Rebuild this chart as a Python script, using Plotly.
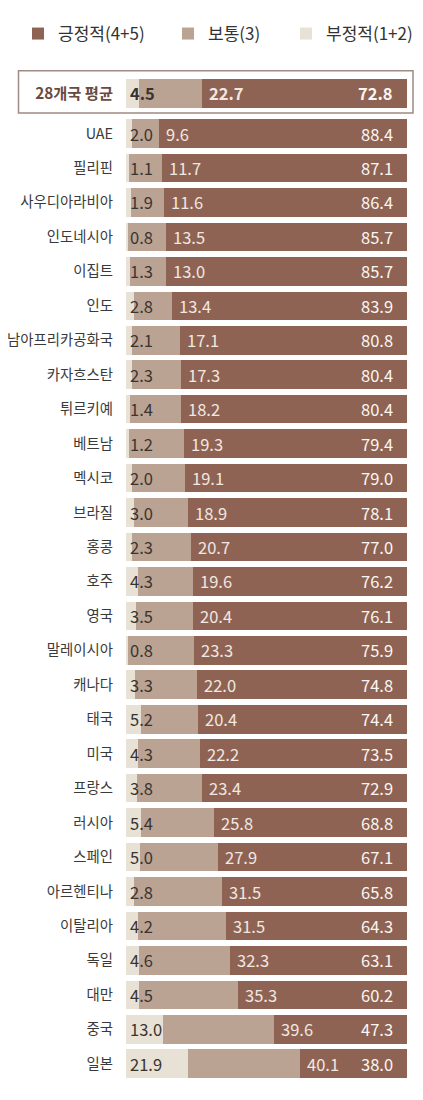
import plotly.graph_objects as go

# ---------------- data ----------------
avg_label = ["28개국 평균"]
avg_negative = [4.5]
avg_neutral = [22.7]
avg_positive = [72.8]

countries = ["UAE", "필리핀", "사우디아라비아", "인도네시아", "이집트", "인도",
             "남아프리카공화국", "카자흐스탄", "튀르키예", "베트남", "멕시코", "브라질",
             "홍콩", "호주", "영국", "말레이시아", "캐나다", "태국", "미국", "프랑스",
             "러시아", "스페인", "아르헨티나", "이탈리아", "독일", "대만", "중국", "일본"]
negative = [2.0, 1.1, 1.9, 0.8, 1.3, 2.8, 2.1, 2.3, 1.4, 1.2, 2.0, 3.0, 2.3, 4.3,
            3.5, 0.8, 3.3, 5.2, 4.3, 3.8, 5.4, 5.0, 2.8, 4.2, 4.6, 4.5, 13.0, 21.9]
neutral = [9.6, 11.7, 11.6, 13.5, 13.0, 13.4, 17.1, 17.3, 18.2, 19.3, 19.1, 18.9,
           20.7, 19.6, 20.4, 23.3, 22.0, 20.4, 22.2, 23.4, 25.8, 27.9, 31.5, 31.5,
           32.3, 35.3, 39.6, 40.1]
positive = [88.4, 87.1, 86.4, 85.7, 85.7, 83.9, 80.8, 80.4, 80.4, 79.4, 79.0, 78.1,
            77.0, 76.2, 76.1, 75.9, 74.8, 74.4, 73.5, 72.9, 68.8, 67.1, 65.8, 64.3,
            63.1, 60.2, 47.3, 38.0]

series_names = ["부정적(1+2)", "보통(3)", "긍정적(4+5)"]

# ---------------- style ----------------
W, H = 423, 1100
ML, MR, MT, MB = 126, 16, 76, 19
PLOT_TOP, PLOT_BOTTOM = MT, H - MB
PH = PLOT_BOTTOM - PLOT_TOP
PW = W - ML - MR

C_NEG = "#e8e2d6"
C_NEU = "#baa393"
C_POS = "#8e6353"
FONT = "Noto Sans CJK KR"
NUM_SIZE = 16.5
LEGEND_WIDTHS = [92, 73, 105]  # per-trace legend entry widths (px)


def py(px):  # pixel-from-top -> paper y
    return (PLOT_BOTTOM - px) / PH


def pxx(px):  # pixel-from-left -> paper x
    return (px - ML) / PW


fig = go.Figure()

colors = [C_NEG, C_NEU, C_POS]
avg_vals = [avg_negative, avg_neutral, avg_positive]
vals = [negative, neutral, positive]
for name, col, av, v, lw in zip(series_names, colors, avg_vals, vals, LEGEND_WIDTHS):
    fig.add_trace(go.Bar(y=avg_label, x=av, orientation="h", name=name,
                         marker=dict(color=col, line=dict(width=0)),
                         xaxis="x2", yaxis="y2", showlegend=False, hoverinfo="x+name"))
    fig.add_trace(go.Bar(y=countries, x=v, orientation="h", name=name,
                         marker=dict(color=col, line=dict(width=0)), legendwidth=lw,
                         xaxis="x", yaxis="y", hoverinfo="x+name"))

annotations = []


def add_labels(cats, neg, neu, pos, xref, yref, bold):
    w_num = 700 if bold else 400
    for c, a, b, p in zip(cats, neg, neu, pos):
        annotations.append(dict(x=0, y=c, xref=xref, yref=yref, text=f"{a:.1f}",
                                showarrow=False, xanchor="left", xshift=2,
                                font=dict(family=FONT, size=NUM_SIZE, color="#3a3430", weight=w_num)))
        annotations.append(dict(x=a + b, y=c, xref=xref, yref=yref, text=f"{b:.1f}",
                                showarrow=False, xanchor="left", xshift=5,
                                font=dict(family=FONT, size=NUM_SIZE, color="#f1e8e2", weight=w_num)))
        annotations.append(dict(x=1, y=c, xref=xref + " domain", yref=yref, text=f"{p:.1f}",
                                showarrow=False, xanchor="right", xshift=-12,
                                font=dict(family=FONT, size=NUM_SIZE, color="#fbf6f2", weight=w_num)))


add_labels(avg_label, avg_negative, avg_neutral, avg_positive, "x2", "y2", True)
add_labels(countries, negative, neutral, positive, "x", "y", False)

shapes = [dict(type="rect", xref="paper", yref="paper",
               x0=pxx(18.5), x1=pxx(413), y0=py(113), y1=py(70.7),
               line=dict(color="#9f8b83", width=1.5), fillcolor="rgba(0,0,0,0)", layer="below")]

fig.update_layout(
    width=W, height=H,
    margin=dict(l=ML, r=MR, t=MT, b=MB, pad=0, autoexpand=False),
    barmode="stack", bargap=0.17,
    paper_bgcolor="white", plot_bgcolor="white",
    font=dict(family=FONT, color="#333333"),
    showlegend=True,
    legend=dict(orientation="h", traceorder="reversed", x=pxx(18), xanchor="left",
                y=py(34), yanchor="middle", font=dict(family=FONT, size=17, color="#333333"),
                bgcolor="rgba(0,0,0,0)", itemclick=False, itemdoubleclick=False),
    xaxis=dict(domain=[0, 1], range=[0, 100], visible=False, fixedrange=True, automargin=False),
    yaxis=dict(domain=[0, py(116.3)], autorange="reversed", showgrid=False, zeroline=False,
               showline=False, ticks="", ticklabelstandoff=12, fixedrange=True, automargin=False,
               tickfont=dict(family=FONT, size=14.4, color="#3a3a3a")),
    xaxis2=dict(domain=[0, 1], range=[0, 100], visible=False, anchor="y2", fixedrange=True,
                automargin=False),
    yaxis2=dict(domain=[py(110.6), 1], anchor="x2", showgrid=False, zeroline=False,
                showline=False, ticks="", ticklabelstandoff=12, fixedrange=True, automargin=False,
                tickfont=dict(family=FONT, size=15.3, color="#6a4a3f", weight=700)),
    annotations=annotations,
    shapes=shapes,
)

fig.write_html("out.html", post_script="document.body.style.margin='0';",
               config={"displayModeBar": False})
